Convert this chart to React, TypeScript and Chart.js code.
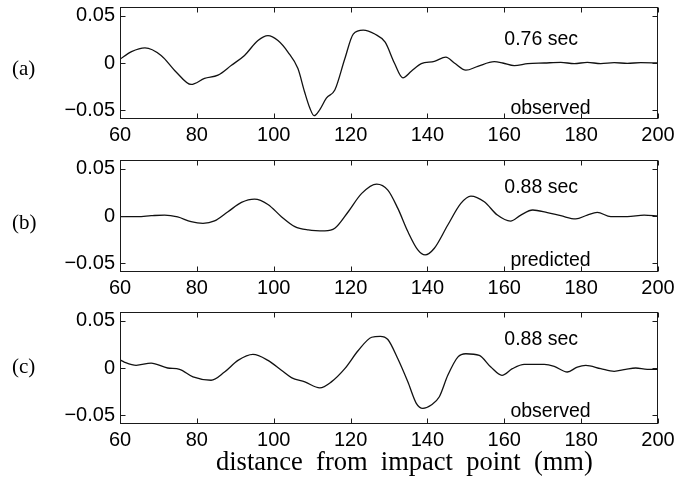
import React, { useEffect, useRef } from "react";
import { Chart, registerables } from "chart.js";
Chart.register(...registerables);

const xTicks = [60, 80, 100, 120, 140, 160, 180, 200];
const yTicks = [-0.05, 0, 0.05];

// (a) observed, 0.76 sec
const aX = [60, 63, 66.5, 70.7, 74.6, 78.5, 82, 85.5, 89, 92.4, 95.9, 98.5, 101.1, 103.7, 106.3, 108, 109.4, 110.5, 112, 113.7, 115.9, 118.5, 120.7, 123.3, 126.3, 129, 131.4, 133.6, 135.8, 138.4, 141.8, 144.8, 147, 150, 153.1, 157.4, 159.6, 162.6, 166.1, 170.4, 174.7, 178.2, 181.6, 185.1, 188.6, 192, 195.5, 200];
const aY = [0.004, 0.012, 0.016, 0.008, -0.0094, -0.0226, -0.0163, -0.0128, -0.0024, 0.008, 0.0236, 0.0288, 0.0236, 0.0115, -0.0059, -0.03, -0.0475, -0.0555, -0.049, -0.037, -0.0285, 0.0045, 0.0305, 0.0347, 0.0305, 0.0219, 0.0, -0.0156, -0.0087, -0.0007, 0.0017, 0.0062, 0.0, -0.0076, -0.0035, 0.0014, 0.0, -0.0028, -0.0007, 0.0, 0.0007, -0.0007, 0.0007, -0.0007, 0.0003, -0.0003, 0.0003, 0.0];

// (b) predicted, 0.88 sec
const bX = [60, 64.6, 68.1, 71.6, 75, 78.5, 81.6, 84.6, 88.1, 91.6, 95, 98.5, 102, 105.5, 109, 113.3, 115.9, 119.4, 122.9, 126.8, 129.7, 132.3, 134.9, 137.5, 139.4, 141.8, 145.3, 148.7, 151.3, 154.8, 158.2, 161.6, 164.3, 167.4, 171.2, 174.7, 178.6, 181.6, 184.2, 187.7, 192, 196.4, 200];
const bY = [-0.0007, -0.0007, 0.0003, 0.001, -0.001, -0.006, -0.0077, -0.0052, 0.0045, 0.0143, 0.0178, 0.0122, -0.0007, -0.0112, -0.0147, -0.0157, -0.013, 0.0045, 0.0238, 0.0336, 0.0273, 0.008, -0.0164, -0.0357, -0.041, -0.034, -0.0095, 0.0133, 0.021, 0.015, 0.001, -0.0053, 0.001, 0.0063, 0.0035, 0.0003, -0.0031, 0.001, 0.0038, -0.0007, -0.0007, 0.001, 0.0];

// (c) observed, 0.88 sec
const cX = [60, 61.1, 64.2, 68.1, 72.4, 75.5, 79, 83.7, 87.2, 90.7, 94.6, 98.5, 102, 104.6, 108.1, 112, 115, 118.5, 122, 125.5, 127.7, 129.7, 132.3, 134.9, 137.1, 138.8, 141, 143.1, 145.3, 147.9, 150, 153.5, 156.5, 159.4, 162.1, 165.2, 170.4, 173, 176.4, 179, 181.2, 185.1, 188.6, 191.6, 194.2, 197.2, 200];
const cY = [0.0085, 0.0063, 0.0028, 0.0052, 0.0, -0.0014, -0.0094, -0.0129, -0.0042, 0.008, 0.0143, 0.008, -0.0024, -0.0101, -0.0146, -0.0209, -0.0146, -0.0007, 0.0184, 0.0324, 0.0334, 0.03, 0.0097, -0.0146, -0.0372, -0.0425, -0.039, -0.0303, -0.0077, 0.0115, 0.015, 0.0132, 0.001, -0.0077, -0.0007, 0.0038, 0.0038, 0.0017, -0.0042, 0.001, 0.0028, -0.0007, -0.0035, -0.0014, 0.0, -0.0014, -0.0014];

const panelLabels = ["(a)", "(b)", "(c)"];
const timeLabels = ["0.76 sec", "0.88 sec", "0.88 sec"];
const kindLabels = ["observed", "predicted", "observed"];
const xTitle = "distance  from  impact  point  (mm)";

const SANS = '"Liberation Sans", Arial, Helvetica, sans-serif';
const SERIF = '"Liberation Serif", "Times New Roman", serif';

type PanelProps = {
  xs: number[];
  ys: number[];
  timeText: string;
  kindText: string;
  top: number;
  timeY: number;
  kindY: number;
};

function Panel({ xs, ys, timeText, kindText, top, timeY, kindY }: PanelProps) {
  const ref = useRef<HTMLCanvasElement | null>(null);
  useEffect(() => {
    if (!ref.current) return;
    const deco = {
      id: "deco",
      afterDraw(chart: any) {
        const { ctx, chartArea, scales } = chart;
        const { left, right, top: t, bottom } = chartArea;
        ctx.save();
        ctx.strokeStyle = "#1a1a1a";
        ctx.lineWidth = 1;
        const L = Math.round(left) + 0.5;
        const R = Math.round(right) - 0.5;
        const T = Math.round(t) + 0.5;
        const B = Math.round(bottom) - 0.5;
        ctx.strokeRect(L, T, R - L, B - T);
        ctx.beginPath();
        for (const v of xTicks) {
          const px = Math.round(scales.x.getPixelForValue(v)) + 0.5;
          ctx.moveTo(px, B);
          ctx.lineTo(px, B - 5);
          ctx.moveTo(px, T);
          ctx.lineTo(px, T + 5);
        }
        for (const v of yTicks) {
          const py = Math.round(scales.y.getPixelForValue(v)) + 0.5;
          ctx.moveTo(L, py);
          ctx.lineTo(L + 5, py);
          ctx.moveTo(R, py);
          ctx.lineTo(R - 5, py);
        }
        ctx.stroke();
        ctx.fillStyle = "#000";
        ctx.font = `19.5px ${SANS}`;
        ctx.textBaseline = "middle";
        ctx.textAlign = "left";
        ctx.fillText(timeText, scales.x.getPixelForValue(160), scales.y.getPixelForValue(timeY));
        ctx.fillText(kindText, scales.x.getPixelForValue(161.6), scales.y.getPixelForValue(kindY));
        ctx.restore();
      },
    };
    const chart = new Chart(ref.current, {
      type: "line",
      data: {
        datasets: [
          {
            data: xs.map((x, i) => ({ x, y: ys[i] })),
            borderColor: "#111",
            borderWidth: 1.3,
            pointRadius: 0,
            fill: false,
            cubicInterpolationMode: "monotone",
          },
        ],
      },
      options: {
        animation: false,
        responsive: false,
        maintainAspectRatio: false,
        layout: { padding: { top: 5, right: 32, left: 0, bottom: 0 } },
        plugins: { legend: { display: false }, tooltip: { enabled: false } },
        scales: {
          x: {
            type: "linear",
            min: 60,
            max: 200,
            grid: { display: false, drawTicks: false },
            border: { display: false },
            afterBuildTicks: (s: any) => {
              s.ticks = xTicks.map((v) => ({ value: v }));
            },
            ticks: {
              color: "#000",
              font: { family: SANS, size: 20 },
              padding: 4,
              maxRotation: 0,
              autoSkip: false,
              callback: (v: any) => String(v),
            },
            afterFit: (s: any) => {
              s.height = 33;
              s.paddingLeft = 0;
              s.paddingRight = 0;
              s.paddingTop = 0;
              s.paddingBottom = 0;
            },
          },
          y: {
            type: "linear",
            min: -0.059,
            max: 0.059,
            grid: { display: false, drawTicks: false },
            border: { display: false },
            afterBuildTicks: (s: any) => {
              s.ticks = yTicks.map((v) => ({ value: v }));
            },
            ticks: {
              color: "#000",
              font: { family: SANS, size: 20 },
              padding: 5,
              autoSkip: false,
              callback: (v: any) => {
                const n = Number(v);
                if (Math.abs(n) < 1e-9) return "0";
                return (n < 0 ? "\u2212" : "") + Math.abs(n).toFixed(2);
              },
            },
            afterFit: (s: any) => {
              s.width = 120;
              s.paddingLeft = 0;
              s.paddingRight = 0;
              s.paddingTop = 0;
              s.paddingBottom = 0;
            },
          },
        },
      } as any,
      plugins: [deco],
    });
    return () => chart.destroy();
  }, [xs, ys, timeText, kindText, timeY, kindY]);
  return (
    <canvas
      ref={ref}
      width={690}
      height={150}
      style={{ position: "absolute", left: 0, top: top - 5, width: 690, height: 150 }}
    />
  );
}

const labelStyle = (top: number): React.CSSProperties => ({
  position: "absolute",
  left: 12,
  top,
  fontFamily: SERIF,
  fontSize: 21,
  lineHeight: "21px",
  color: "#000",
  whiteSpace: "pre",
});

export default function App() {
  return (
    <div style={{ position: "absolute", left: 0, top: 0, width: 690, height: 494, background: "#fff", overflow: "hidden" }}>
      <Panel xs={aX} ys={aY} timeText={timeLabels[0]} kindText={kindLabels[0]} top={7} timeY={0.0248} kindY={-0.048} />
      <Panel xs={bX} ys={bY} timeText={timeLabels[1]} kindText={kindLabels[1]} top={160} timeY={0.0295} kindY={-0.047} />
      <Panel xs={cX} ys={cY} timeText={timeLabels[2]} kindText={kindLabels[2]} top={312} timeY={0.0295} kindY={-0.0458} />
      <div style={labelStyle(58)}>{panelLabels[0]}</div>
      <div style={labelStyle(212)}>{panelLabels[1]}</div>
      <div style={labelStyle(356)}>{panelLabels[2]}</div>
      <div
        style={{
          position: "absolute",
          left: 216,
          top: 448,
          fontFamily: SERIF,
          fontSize: 26.5,
          lineHeight: "27px",
          color: "#000",
          whiteSpace: "pre",
        }}
      >
        {xTitle}
      </div>
    </div>
  );
}
